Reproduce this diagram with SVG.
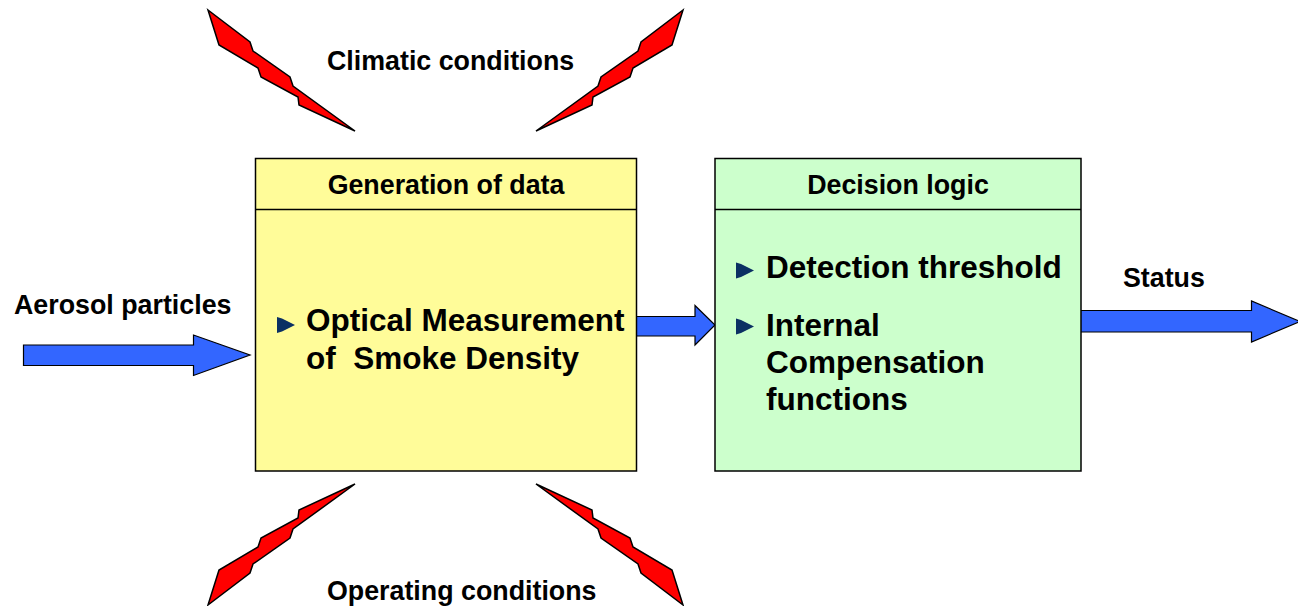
<svg xmlns="http://www.w3.org/2000/svg" xmlns:xlink="http://www.w3.org/1999/xlink" width="1298" height="606" viewBox="0 0 1298 606">
<style>
text{font-family:"Liberation Sans",Arial,sans-serif;font-weight:bold;fill:#000}
.lbl{font-size:26.8px}
.big{font-size:31.5px}
.bolt{fill:#FF0000;stroke:#000;stroke-width:1.5;stroke-linejoin:miter}
.arrow{fill:#3366FF;stroke:#000;stroke-width:1.2}
.box{stroke:#000;stroke-width:1.5}
.bullet{fill:#0B3063}
</style>
<defs>
<path id="bolt" class="bolt" d="M208,10 L250,42 L253,51 L290,77 L293,86 L355,131 L299,105 L298,97 L261,77 L258,68 L219,45 Z"/>
<path id="bul" d="M0,0 L5,1.5 L18,8 L5,14.5 L0,16 Z"/>
</defs>
<rect width="1298" height="606" fill="#fff"/>
<g id="influences">
<use xlink:href="#bolt"/>
<use xlink:href="#bolt" transform="matrix(-1 0 0 1 891 0)"/>
<use xlink:href="#bolt" transform="matrix(1 0 0 -1 0 615)"/>
<use xlink:href="#bolt" transform="matrix(-1 0 0 -1 891 615)"/>
<text class="lbl" x="327" y="70">Climatic conditions</text>
<text class="lbl" x="327" y="600">Operating conditions</text>
</g>
<g id="connectors">
<path class="arrow" d="M23.5,345 L193.5,345 L193.5,335 L250,355 L193.5,375.5 L193.5,365.5 L23.5,365.5 Z"/>
<path class="arrow" d="M630,316.5 L695,316.5 L695,305.5 L715,325 L695,345 L695,336 L630,336 Z"/>
<path class="arrow" d="M1075,310.5 L1251.5,310.5 L1251.5,301 L1300,321.5 L1251.5,342 L1251.5,332 L1075,332 Z"/>
<text class="lbl" x="14" y="314">Aerosol particles</text>
<text class="lbl" x="1123" y="287">Status</text>
</g>
<g id="generation">
<rect class="box" x="255.5" y="158.5" width="381" height="312.5" fill="#FFFC99"/>
<line class="box" x1="255.5" y1="209.5" x2="636.5" y2="209.5"/>
<text class="lbl" x="446" y="194" text-anchor="middle">Generation of data</text>
<use xlink:href="#bul" class="bullet" x="277" y="317"/>
<text class="big" x="306" y="331">Optical Measurement</text>
<text class="big" x="306" y="369" xml:space="preserve">of  Smoke Density</text>
</g>
<g id="decision">
<rect class="box" x="715" y="158.5" width="366" height="312.5" fill="#CCFFCC"/>
<line class="box" x1="715" y1="209.5" x2="1081" y2="209.5"/>
<text class="lbl" x="898" y="194" text-anchor="middle">Decision logic</text>
<use xlink:href="#bul" class="bullet" x="736" y="262.5"/>
<text class="big" x="766" y="278">Detection threshold</text>
<use xlink:href="#bul" class="bullet" x="736" y="318.5"/>
<text class="big" x="766" y="336">Internal</text>
<text class="big" x="766" y="373">Compensation</text>
<text class="big" x="766" y="410">functions</text>
</g>
</svg>
